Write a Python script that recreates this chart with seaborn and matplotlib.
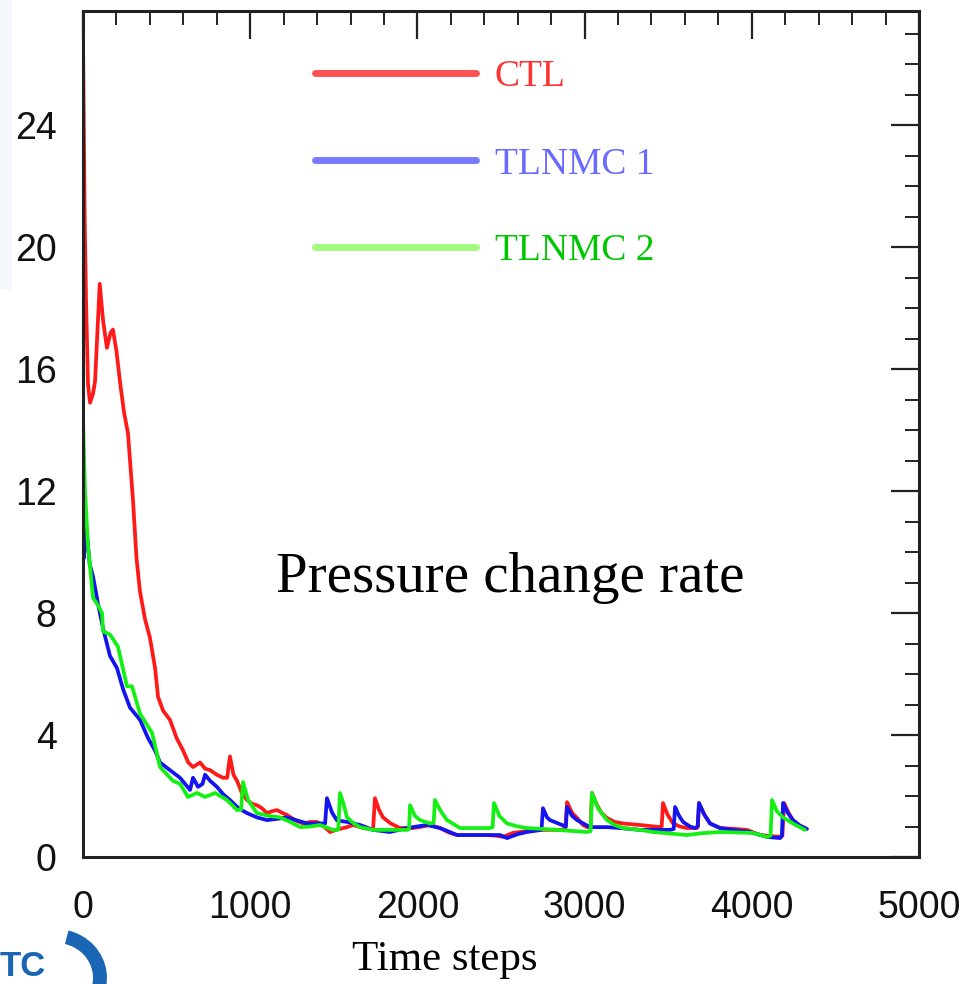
import numpy as np
import pandas as pd
import matplotlib
matplotlib.use("Agg")
import matplotlib.pyplot as plt
from matplotlib.lines import Line2D
from matplotlib.patches import Rectangle, Arc
from matplotlib.ticker import MultipleLocator
import seaborn as sns

# ---------------- data ----------------
ctl_t = [0, 10, 18, 30, 42, 60, 72, 100, 120, 143, 165, 179, 200, 221, 245, 269, 299, 320, 341, 371,
         400, 431, 449, 479, 520, 560, 598, 630, 658, 700, 730, 760, 800, 837, 862, 879, 900, 921, 950,
         981, 1010, 1040, 1070, 1100, 1130, 1160, 1190, 1220, 1270, 1316, 1360, 1400, 1440, 1477, 1520,
         1579, 1615, 1680, 1735, 1746, 1770, 1794, 1840, 1896, 1974, 2030, 2075, 2135, 2190, 2237, 2332,
         2420, 2470, 2512, 2572, 2650, 2733, 2853, 2885, 2895, 2925, 2955, 2990, 3014, 3036, 3044, 3070,
         3100, 3134, 3180, 3230, 3331, 3451, 3461, 3469, 3495, 3529, 3570, 3612, 3672, 3678, 3684, 3715,
         3750, 3810, 3900, 3971, 4049, 4169, 4183, 4193, 4220, 4246, 4280, 4318]
ctl_y = [26.8, 21.0, 18.3, 15.5, 14.9, 15.2, 15.6, 18.8, 17.6, 16.7, 17.2, 17.3, 16.6, 15.6, 14.6, 13.9,
         11.7, 9.8, 8.7, 7.8, 7.2, 6.2, 5.25, 4.8, 4.5, 3.9, 3.5, 3.1, 2.95, 3.1, 2.9, 2.85, 2.7, 2.6, 2.6,
         3.3, 2.7, 2.5, 2.1, 1.87, 1.75, 1.7, 1.6, 1.44, 1.5, 1.54, 1.45, 1.38, 1.2, 1.1, 1.15, 1.15, 1.0,
         0.82, 0.9, 0.98, 1.05, 0.95, 0.9, 1.93, 1.55, 1.3, 1.1, 0.95, 0.95, 1.0, 1.05, 0.95, 0.8, 0.72,
         0.72, 0.72, 0.7, 0.66, 0.79, 0.85, 0.89, 0.89, 0.92, 1.8, 1.45, 1.28, 1.05, 0.98, 1.0, 2.1, 1.75,
         1.45, 1.28, 1.15, 1.1, 1.05, 0.98, 1.0, 1.77, 1.4, 1.1, 1.0, 0.95, 0.95, 1.0, 1.77, 1.4, 1.1,
         0.95, 0.92, 0.89, 0.72, 0.66, 0.7, 1.77, 1.45, 1.21, 1.05, 0.95]

tl1_t = [0, 5, 20, 40, 60, 90, 120, 161, 203, 240, 281, 341, 389, 430, 461, 520, 580, 640, 658, 688,
         715, 730, 760, 801, 840, 879, 930, 981, 1040, 1100, 1160, 1220, 1280, 1340, 1400, 1448, 1459,
         1490, 1519, 1580, 1657, 1734, 1836, 1938, 2057, 2135, 2237, 2380, 2494, 2536, 2600, 2655, 2742,
         2751, 2775, 2793, 2865, 2888, 2895, 2925, 2955, 3032, 3134, 3212, 3331, 3511, 3533, 3541, 3565,
         3589, 3630, 3660, 3676, 3684, 3715, 3750, 3810, 3900, 3989, 4091, 4169, 4180, 4187, 4215, 4246,
         4290, 4330]
tl1_y = [12.5, 9.8, 10.8, 9.6, 9.2, 8.3, 7.5, 6.6, 6.2, 5.5, 4.9, 4.5, 3.9, 3.5, 3.1, 2.85, 2.6, 2.2,
         2.6, 2.3, 2.4, 2.7, 2.5, 2.3, 2.05, 1.87, 1.6, 1.44, 1.3, 1.21, 1.25, 1.3, 1.2, 1.1, 1.1, 1.1,
         1.93, 1.45, 1.2, 1.15, 1.05, 0.89, 0.82, 0.95, 1.05, 0.95, 0.72, 0.72, 0.72, 0.62, 0.75, 0.82,
         0.89, 1.6, 1.3, 1.21, 1.05, 1.0, 1.64, 1.35, 1.21, 0.98, 0.98, 0.95, 0.89, 0.89, 0.92, 1.64, 1.35,
         1.15, 1.0, 0.95, 1.0, 1.77, 1.4, 1.1, 0.95, 0.88, 0.82, 0.66, 0.62, 0.7, 1.77, 1.45, 1.21, 1.02,
         0.92]

tl2_t = [0, 12, 30, 60, 85, 114, 120, 161, 209, 263, 293, 341, 413, 461, 538, 580, 628, 682, 730, 790,
         861, 921, 945, 957, 987, 1040, 1110, 1178, 1240, 1298, 1360, 1417, 1495, 1527, 1537, 1560, 1579,
         1620, 1657, 1734, 1940, 1950, 1956, 1985, 2016, 2075, 2097, 2105, 2140, 2177, 2255, 2434, 2450,
         2458, 2490, 2536, 2600, 2655, 2835, 3014, 3036, 3044, 3080, 3134, 3180, 3230, 3331, 3409, 3612,
         3700, 3810, 4007, 4091, 4112, 4121, 4150, 4187, 4246, 4318]
tl2_y = [14.3, 12.0, 10.2, 8.5, 8.3, 8.0, 7.4, 7.3, 6.9, 5.6, 5.6, 4.7, 4.07, 2.95, 2.5, 2.4, 1.97, 2.1,
         1.97, 2.1, 1.87, 1.54, 1.55, 2.46, 1.87, 1.44, 1.35, 1.3, 1.15, 0.98, 1.0, 1.05, 0.89, 0.9, 2.1,
         1.7, 1.3, 1.1, 0.98, 0.89, 0.89, 0.92, 1.7, 1.35, 1.21, 1.1, 1.12, 1.87, 1.5, 1.21, 0.95, 0.95,
         0.98, 1.77, 1.35, 1.1, 1.0, 0.95, 0.89, 0.82, 0.85, 2.1, 1.6, 1.21, 1.05, 0.95, 0.89, 0.82, 0.72,
         0.78, 0.82, 0.79, 0.66, 0.7, 1.87, 1.5, 1.3, 1.1, 0.89]

series_names = ["CTL", "TLNMC 1", "TLNMC 2"]
x_ticks = [0, 1000, 2000, 3000, 4000, 5000]
y_ticks = [0, 4, 8, 12, 16, 20, 24]

line_colors = {"CTL": "#ff1a1a", "TLNMC 1": "#1414f0", "TLNMC 2": "#14f014"}
legend_line_colors = ["#ff5252", "#7a7aff", "#a2fa7e"]
legend_text_colors = ["#ff3030", "#6a6aff", "#00c800"]

df = pd.concat([
    pd.DataFrame({"t": ctl_t, "v": ctl_y, "run": "CTL"}),
    pd.DataFrame({"t": tl1_t, "v": tl1_y, "run": "TLNMC 1"}),
    pd.DataFrame({"t": tl2_t, "v": tl2_y, "run": "TLNMC 2"}),
], ignore_index=True)

# ---------------- figure ----------------
sns.set_theme(style="white")
plt.rcParams["font.family"] = ["Liberation Sans", "DejaVu Sans"]

W, H = 964, 984
fig = plt.figure(figsize=(W / 100, H / 100), dpi=100)
ax = fig.add_axes([83 / W, 1 - 857 / H, 836 / W, 846 / H])

sns.lineplot(data=df, x="t", y="v", hue="run", hue_order=series_names,
             palette=line_colors, estimator=None, sort=False, linewidth=2.7,
             legend=False, ax=ax)

ax.set_xlim(0, 5000)
ax.set_ylim(0, 27.75)
ax.set_xticks(x_ticks)
ax.set_yticks(y_ticks)
ax.set_xticklabels([str(v) for v in x_ticks])
ax.set_yticklabels([str(v) for v in y_ticks])
ax.xaxis.set_minor_locator(MultipleLocator(200))
ax.yaxis.set_minor_locator(MultipleLocator(1))
ax.set_xlabel("")
ax.set_ylabel("")

ax.tick_params(axis="both", which="major", direction="in", length=20, width=1.6,
               color="#222222", top=True, right=True, labelsize=27, labelcolor="#111111")
ax.tick_params(axis="both", which="minor", direction="in", length=10, width=1.4,
               color="#222222", top=True, right=True)
ax.tick_params(axis="y", which="major", pad=19)
ax.tick_params(axis="x", which="major", pad=24)
for s in ax.spines.values():
    s.set_visible(True)
    s.set_linewidth(2.2)
    s.set_color("#222222")

# legend
handles = [Line2D([0], [0], color=c, linewidth=5) for c in legend_line_colors]
leg = ax.legend(handles, series_names, loc="upper left",
                bbox_to_anchor=((315 - 83) / 836, (857 - 60) / 846),
                frameon=False, handlelength=4.3, handletextpad=0.5,
                labelspacing=1.4, borderaxespad=0, borderpad=0,
                prop={"family": "Liberation Serif", "size": 27},
                labelcolor=legend_text_colors)

# annotations
ax.text((510 - 83) / 836, (857 - 578) / 846, "Pressure change rate",
        transform=ax.transAxes, ha="center", va="center",
        fontsize=41, family="Liberation Serif", color="black")
fig.text(445 / W, 1 - 960 / H, "Time steps", ha="center", va="center",
         fontsize=31, family="Liberation Serif", color="black")

# faint decorative edge and partial logo
fig.add_artist(Rectangle((0, 1 - 290 / H), 12 / W, 290 / H, transform=fig.transFigure,
                         facecolor="#f5f8fd", edgecolor="none", zorder=0))
fig.text(0 / W, 1 / H, "TC", ha="left", va="bottom", fontsize=25,
         fontweight="bold", color="#1a66b5", family="Liberation Sans")
fig.add_artist(Arc((56 / W, 6 / H), 88 / W, 84 / H, theta1=-60, theta2=75,
                   transform=fig.transFigure, color="#1a66b5", linewidth=10))

fig.savefig("out.png", dpi=100)
